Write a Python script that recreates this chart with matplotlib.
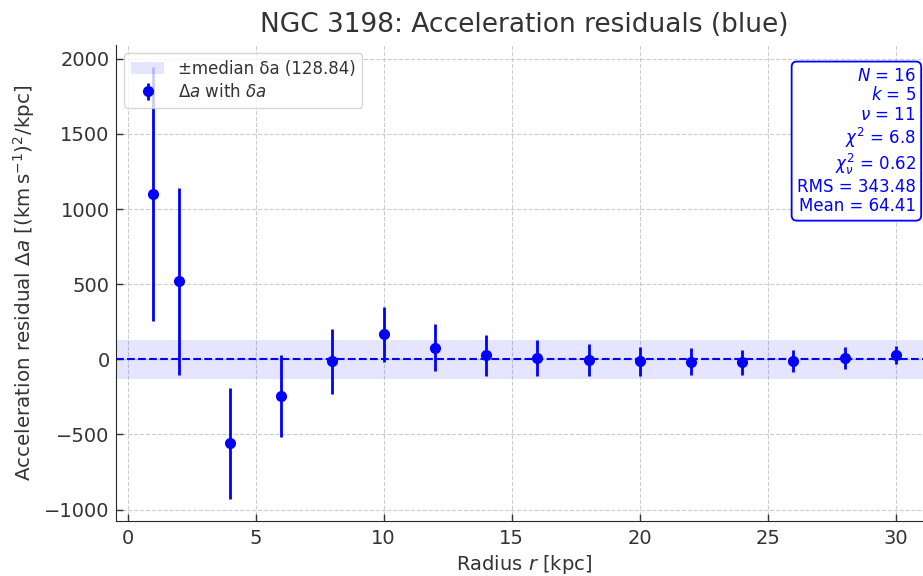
import matplotlib
matplotlib.use("Agg")
import matplotlib.pyplot as plt
import numpy as np

# ---- data ----
radius_kpc = [1, 2, 4, 6, 8, 10, 12, 14, 16, 18, 20, 22, 24, 26, 28, 30]
residual = [1100, 520, -560, -242, -13, 167, 78, 26, 9, -4, -13, -16, -20, -11, 9, 29]
residual_err = [848, 623, 372, 272, 217, 183, 155, 134, 122, 109, 98, 89, 81, 73, 72, 60]
median_err = 128.84
stats_lines = [
    r"$N$ = 16",
    r"$k$ = 5",
    r"$\nu$ = 11",
    r"$\chi^2$ = 6.8",
    r"$\chi^2_\nu$ = 0.62",
    "RMS = 343.48",
    "Mean = 64.41",
]

txt = "#333333"
plt.rcParams.update({
    "font.family": ["DejaVu Sans"],
    "text.color": txt,
    "axes.labelcolor": txt,
    "xtick.color": txt,
    "ytick.color": txt,
    "axes.edgecolor": "#262626",
    "xtick.direction": "in",
    "ytick.direction": "in",
})

fig = plt.figure(figsize=(9.23, 5.76), dpi=100)
ax = fig.add_axes([116 / 923, 1 - 521 / 576, (933 - 116) / 923, (521 - 45) / 576])

ax.axhspan(-median_err, median_err, color="blue", alpha=0.1, lw=0,
           label=f"±median δa ({median_err:.2f})")
ax.axhline(0, color="blue", ls="--", lw=1.5)
ax.errorbar(radius_kpc, residual, yerr=residual_err, fmt="o", color="blue",
            ms=7, elinewidth=2, capsize=0, label=r"$\Delta a$ with $\delta a$")

ax.grid(True, ls="--", color="#cccccc", lw=0.8)
ax.set_axisbelow(True)
ax.spines["top"].set_visible(False)
ax.spines["right"].set_visible(False)
ax.tick_params(labelsize=14, length=5, width=1)
ax.tick_params(axis="x", pad=5.5)
ax.tick_params(axis="y", pad=4.5)

ax.set_title("NGC 3198: Acceleration residuals (blue)", fontsize=19, color=txt, pad=9)
ax.set_xlabel(r"Radius $r$ [kpc]", fontsize=14)
ax.set_ylabel(r"Acceleration residual $\Delta a$ [$(\mathrm{km\,s^{-1}})^2$/kpc]",
              fontsize=14.3, labelpad=5.5)

leg = ax.legend(loc="upper left", fontsize=12, framealpha=0.8, edgecolor="#cccccc",
                labelspacing=0.3)

ax.text(0.979, 0.954, "\n".join(stats_lines), transform=ax.transAxes, ha="right", va="top",
        fontsize=12, color="blue", linespacing=1.1,
        bbox=dict(boxstyle="round,pad=0.32", facecolor="white", edgecolor="blue", lw=1.3))

fig.savefig("out.png", dpi=100)
